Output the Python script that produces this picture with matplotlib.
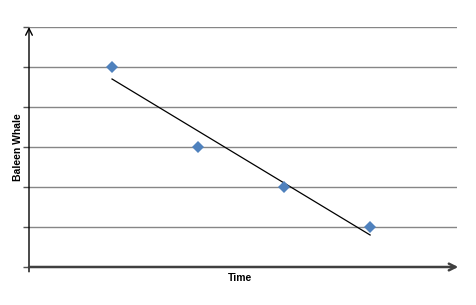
import matplotlib
matplotlib.use('Agg')
import matplotlib.pyplot as plt
import numpy as np

# data
time = np.array([1, 2, 3, 4])
whale = np.array([5, 3, 2, 1])
grid_levels = [1, 2, 3, 4, 5, 6]

# linear trendline from the points
slope, intercept = np.polyfit(time, whale, 1)
trend = slope * time + intercept

fig = plt.figure(figsize=(4.77, 3.05), dpi=100)
ax = fig.add_axes([29 / 477, 38 / 305, 428 / 477, 240 / 305])
ax.set_xlim(0.035, 5.01)
ax.set_ylim(0, 6)

for lv in grid_levels:
    ax.axhline(lv, color='#868686', lw=1.0, zorder=1)

ax.plot(time, trend, color='black', lw=0.9, zorder=2)
ax.plot(time, whale, linestyle='none', marker='D', markersize=6.5,
        color='#4F81BD', markeredgewidth=0, zorder=3)

for s in ax.spines.values():
    s.set_visible(False)

# axes drawn as arrows
ax.annotate('', xy=(0, 1.0), xytext=(0, -0.02), xycoords='axes fraction',
            arrowprops=dict(arrowstyle='->', color='black', lw=1.0,
                            mutation_scale=12, shrinkA=0, shrinkB=0))
ax.annotate('', xy=(1.003, 0), xytext=(0, 0), xycoords='axes fraction',
            arrowprops=dict(arrowstyle='->', color='#404040', lw=1.8,
                            mutation_scale=12, shrinkA=0, shrinkB=0))

ax.set_yticks([0] + grid_levels)
ax.set_yticklabels([])
ax.set_xticks([])
ax.tick_params(axis='y', length=4, width=1, color='#555555', direction='out')

ax.set_ylabel('Baleen Whale', fontsize=7.5, fontweight='bold',
              family='Liberation Sans')
ax.yaxis.set_label_coords(-0.015, 0.5)
ax.set_xlabel('Time', fontsize=7.5, fontweight='bold',
              family='Liberation Sans')
ax.xaxis.set_label_coords(0.494, -0.024)

fig.savefig('out.png', dpi=100)
